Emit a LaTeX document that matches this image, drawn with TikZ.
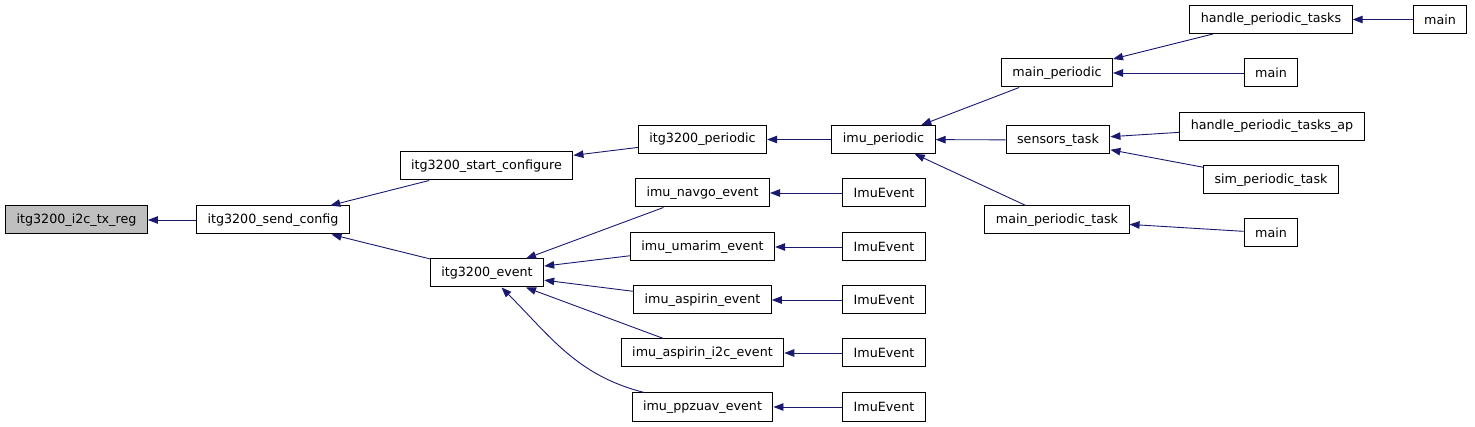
\documentclass[tikz,border=0pt]{standalone}
\usepackage{fontspec}
\setmainfont{DejaVu Sans}
\usepackage{xcolor}
\usepackage{tikz}
\usetikzlibrary{arrows.meta}
\definecolor{bleunuit}{RGB}{25, 25, 112}
\definecolor{grisracine}{RGB}{191, 191, 191}

\begin{document}
\begin{tikzpicture}[x=1pt, y=-1pt,
    fonction/.style={draw, line width=1pt, minimum height=28pt, inner xsep=11pt,
        font=\fontsize{12.7}{15}\selectfont},
    racine/.style={fonction, fill=grisracine},
    fleche/.style={draw=bleunuit, line width=0.9pt,
        -{Triangle[length=10pt, width=7.5pt, fill=bleunuit]}}]
    \useasboundingbox (0,0) rectangle (1475,427);
    % fonction appelée
    \node[racine] (txreg) at (76.5,220) {itg3200\_i2c\_tx\_reg};
    \node[fonction] (sendcfg) at (273,220) {itg3200\_send\_config};
    % niveau 2
    \node[fonction] (startcfg) at (486.5,166) {itg3200\_start\_configure};
    \node[fonction] (event) at (487,273) {itg3200\_event};
    % niveau 3
    \node[fonction] (periodic) at (702.5,139.5) {itg3200\_periodic};
    \node[fonction] (navgo) at (702.5,193) {imu\_navgo\_event};
    \node[fonction] (umarim) at (702.5,247) {imu\_umarim\_event};
    \node[fonction] (aspirin) at (702.5,300) {imu\_aspirin\_event};
    \node[fonction] (aspirini2c) at (702.5,353) {imu\_aspirin\_i2c\_event};
    \node[fonction] (ppzuav) at (702.5,407) {imu\_ppzuav\_event};
    % niveau 4
    \node[fonction] (imuper) at (883.5,139.5) {imu\_periodic};
    \node[fonction] (evnavgo) at (884,193) {ImuEvent};
    \node[fonction] (evumarim) at (884,247) {ImuEvent};
    \node[fonction] (evaspirin) at (884,300) {ImuEvent};
    \node[fonction] (evaspi2c) at (884,353) {ImuEvent};
    \node[fonction] (evppzuav) at (884,407) {ImuEvent};
    % niveau 5
    \node[fonction] (mainper) at (1057,73) {main\_periodic};
    \node[fonction] (sensors) at (1058,140) {sensors\_task};
    \node[fonction] (mainpertask) at (1057,220) {main\_periodic\_task};
    % niveau 6
    \node[fonction] (handletasks) at (1271,19.5) {handle\_periodic\_tasks};
    \node[fonction] (mainb) at (1271,73) {main};
    \node[fonction] (handleap) at (1272,126.5) {handle\_periodic\_tasks\_ap};
    \node[fonction] (simtask) at (1271,180) {sim\_periodic\_task};
    \node[fonction] (mainc) at (1271,233) {main};
    % niveau 7
    \node[fonction] (maina) at (1440,19.5) {main};

    % appels
    \draw[fleche] (sendcfg) -- (txreg);
    \draw[fleche] (startcfg) -- (sendcfg);
    \draw[fleche] (event) -- (sendcfg);
    \draw[fleche] (periodic) -- (startcfg);
    \draw[fleche] (navgo) -- (event);
    \draw[fleche] (umarim) -- (event);
    \draw[fleche] (aspirin) -- (event);
    \draw[fleche] (aspirini2c) -- (event);
    \draw[fleche] (ppzuav) to[out=166, in=-45] (event);
    \draw[fleche] (imuper) -- (periodic);
    \draw[fleche] (evnavgo) -- (navgo);
    \draw[fleche] (evumarim) -- (umarim);
    \draw[fleche] (evaspirin) -- (aspirin);
    \draw[fleche] (evaspi2c) -- (aspirini2c);
    \draw[fleche] (evppzuav) -- (ppzuav);
    \draw[fleche] (mainper) -- (imuper);
    \draw[fleche] (sensors) -- (imuper);
    \draw[fleche] (mainpertask) -- (imuper);
    \draw[fleche] (handletasks) -- (mainper);
    \draw[fleche] (mainb) -- (mainper);
    \draw[fleche] (handleap) -- (sensors);
    \draw[fleche] (simtask) -- (sensors);
    \draw[fleche] (mainc) -- (mainpertask);
    \draw[fleche] (maina) -- (handletasks);
\end{tikzpicture}
\end{document}
